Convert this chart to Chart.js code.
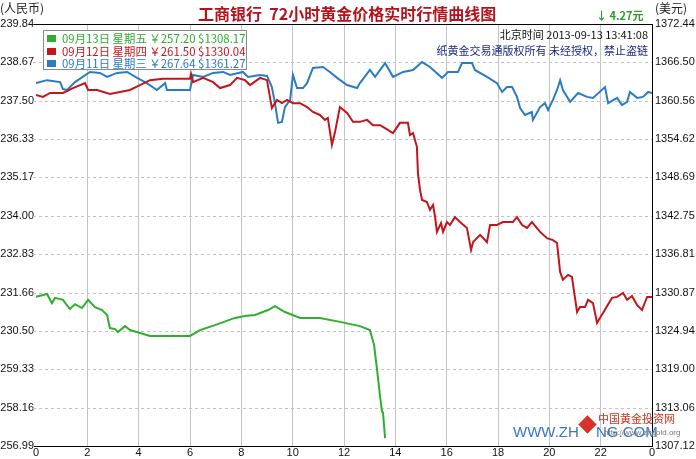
<!DOCTYPE html>
<html>
<head>
<meta charset="utf-8">
<script src="https://cdn.jsdelivr.net/npm/chart.js@4.4.1/dist/chart.umd.min.js"></script>
<style>
  body { margin: 0; background: #fff; }
  #wrap { position: relative; width: 696px; height: 459px; overflow: hidden; background: #fff; }
  #wrap canvas { position: absolute; left: 0; top: 0; }
  .txt { position: absolute; white-space: nowrap; font-family: "Noto Sans CJK SC", sans-serif; line-height: 1; }
  .title { left: 198px; top: 5px; font-size: 16px; font-weight: 700; color: #b5121b; }
  .unit { top: 2px; font-size: 12px; color: #222; }
  .change { left: 596px; top: 10px; font-size: 11px; font-weight: 700; color: #2f9a2f; }
  .stamp { right: 48px; font-size: 11px; }
  .legend { position: absolute; left: 43px; top: 30px; width: 204px; height: 40px; border: 1px solid #8a8a8a; background: #fff; box-sizing: border-box; }
  .legend .row { position: absolute; left: 3px; height: 12px; font-family: "Noto Sans CJK SC", sans-serif; font-size: 11.4px; line-height: 12px; white-space: nowrap; }
  .legend .sw { display: inline-block; width: 9px; height: 7px; margin-right: 6px; vertical-align: 1px; }
  .mark { font-family: "Liberation Sans", Arial, sans-serif; font-size: 15px; color: #3a78c0; }
</style>
</head>
<body>
<div id="wrap">
  <canvas id="gold" width="696" height="459"></canvas>
  <div class="txt unit" style="left:0px;">(人民币)</div>
  <div class="txt unit" style="left:655px;">(美元)</div>
  <div class="txt title">工商银行&nbsp; 72小时黄金价格实时行情曲线图</div>
  <div class="txt change">↓ 4.27元</div>
  <div class="txt stamp" style="top:29px; color:#111;">北京时间 2013-09-13 13:41:08</div>
  <div class="txt stamp" style="top:45px; color:#1c2a86;">纸黄金交易通版权所有 未经授权，禁止盗链</div>
  <div class="legend" id="legend"></div>
  <div class="txt mark" style="left:513px; top:424px;">WWW.ZH</div>
  <div class="txt" style="left:581px; top:418px; width:13px; height:13px; background:#d8332a; transform:rotate(45deg);"></div>
  <div class="txt mark" style="left:596px; top:424px;">NG.COM</div>
  <div class="txt" style="left:598px; top:413px; font-size:11px; color:#d0321e;">中国黄金投资网</div>
  <div class="txt" style="left:604px; top:429px; font-size:8px; color:#777; font-family:'Liberation Sans',sans-serif;">http://www.zhgold.org</div>
</div>
<script>
// hours of the day (x) and price in yuan/gram (left axis)
const greenHours = [0, 0.43, 0.62, 0.74, 1.05, 1.32, 1.52, 1.79, 2.03, 2.30, 2.57, 2.77, 2.88, 3.08, 3.19, 3.47, 3.66, 4.05, 4.44, 6.00, 6.39, 6.97, 7.75, 8.14, 8.53, 9.04, 9.31, 9.70, 10.29, 11.06, 11.84, 12.62, 13.01, 13.17, 13.29, 13.40, 13.48, 13.52, 13.60];
const greenPrices = [261.53, 261.62, 261.34, 261.50, 261.44, 261.16, 261.31, 261.19, 261.44, 261.22, 261.13, 260.98, 260.58, 260.55, 260.46, 260.64, 260.52, 260.43, 260.34, 260.34, 260.52, 260.67, 260.89, 260.95, 260.98, 261.13, 261.25, 261.07, 260.89, 260.89, 260.77, 260.64, 260.52, 260.07, 259.30, 258.54, 258.03, 258.00, 257.23];

const redHours = [0, 0.27, 0.55, 1.05, 1.44, 1.91, 2.03, 2.38, 2.88, 3.27, 3.66, 4.05, 4.44, 4.95, 6.00, 6.04, 6.12, 6.51, 6.90, 7.17, 7.56, 7.83, 8.14, 8.34, 8.73, 9.00, 9.19, 9.39, 9.58, 9.78, 10.01, 10.29, 10.56, 10.79, 11.06, 11.26, 11.37, 11.53, 11.65, 11.84, 12.12, 12.35, 12.62, 12.90, 13.13, 13.40, 13.60, 13.91, 14.18, 14.49, 14.57, 14.69, 14.84, 14.88, 14.96, 15.04, 15.23, 15.35, 15.47, 15.55, 15.62, 15.78, 15.86, 16.01, 16.13, 16.32, 16.52, 16.79, 16.95, 17.03, 17.30, 17.57, 17.69, 17.96, 18.19, 18.58, 18.74, 18.94, 19.13, 19.32, 19.64, 19.91, 20.14, 20.30, 20.42, 20.53, 20.73, 20.88, 21.08, 21.19, 21.39, 21.51, 21.70, 21.86, 21.97, 22.09, 22.44, 22.64, 22.87, 23.03, 23.22, 23.42, 23.61, 23.81, 24.00];
const redPrices = [267.68, 267.62, 267.74, 267.74, 267.89, 268.04, 267.83, 267.83, 267.71, 267.77, 267.83, 267.98, 268.13, 268.17, 268.17, 268.32, 268.07, 268.20, 268.07, 267.89, 267.98, 268.20, 268.13, 267.98, 268.20, 268.13, 267.28, 267.53, 267.43, 267.53, 267.43, 267.43, 267.31, 267.16, 267.07, 266.92, 266.98, 266.16, 266.55, 267.31, 267.13, 266.86, 266.86, 266.92, 266.76, 266.76, 266.67, 266.52, 266.83, 266.83, 266.46, 266.52, 266.10, 265.30, 264.79, 264.48, 264.42, 264.18, 264.33, 263.96, 263.51, 263.78, 263.51, 263.81, 263.72, 263.96, 263.81, 263.63, 262.96, 263.20, 263.42, 263.20, 263.72, 263.72, 263.81, 263.81, 263.96, 263.72, 263.63, 263.81, 263.51, 263.32, 263.26, 263.17, 262.29, 262.05, 262.20, 262.14, 261.07, 261.22, 261.22, 261.44, 261.34, 260.74, 260.89, 261.04, 261.50, 261.53, 261.65, 261.44, 261.56, 261.28, 261.13, 261.53, 261.53];

const blueHours = [0, 0.43, 0.94, 1.05, 1.21, 1.52, 2.10, 2.49, 2.77, 3.16, 3.55, 3.94, 4.32, 4.71, 5.03, 5.10, 6.00, 6.12, 6.51, 6.90, 7.29, 7.56, 8.06, 8.26, 8.73, 9.00, 9.19, 9.31, 9.43, 9.58, 9.70, 9.90, 10.01, 10.17, 10.40, 10.56, 10.79, 11.18, 11.45, 11.73, 12.12, 12.51, 12.62, 13.01, 13.21, 13.60, 13.91, 14.30, 14.69, 15.04, 15.35, 15.82, 16.05, 16.44, 16.60, 16.99, 17.10, 17.57, 17.96, 18.16, 18.35, 18.55, 18.74, 18.86, 19.05, 19.32, 19.36, 19.64, 19.83, 19.95, 20.14, 20.30, 20.42, 20.53, 20.81, 21.12, 21.47, 21.70, 22.17, 22.29, 22.64, 22.83, 23.03, 23.14, 23.42, 23.65, 23.85, 24.00];
const bluePrices = [268.04, 268.13, 268.07, 267.86, 267.83, 268.07, 268.38, 268.35, 268.23, 268.35, 268.38, 268.20, 268.04, 267.83, 268.04, 267.83, 267.83, 268.29, 268.23, 268.35, 268.38, 268.29, 268.38, 268.23, 268.29, 268.26, 267.92, 267.43, 266.83, 266.86, 267.31, 267.53, 268.29, 267.89, 267.89, 268.04, 268.50, 268.53, 268.38, 268.20, 267.98, 267.89, 268.04, 268.44, 268.23, 268.65, 268.23, 268.38, 268.44, 268.68, 268.53, 268.20, 268.38, 268.38, 268.65, 268.65, 268.44, 268.23, 268.04, 267.77, 267.92, 267.92, 267.62, 267.28, 267.07, 267.16, 266.92, 267.31, 267.43, 267.22, 267.53, 267.83, 268.13, 267.83, 267.47, 267.74, 267.62, 267.59, 267.92, 267.43, 267.59, 267.37, 267.47, 267.77, 267.59, 267.62, 267.77, 267.74];

const legendLabels = ['09月13日 星期五 ￥257.20 $1308.17', '09月12日 星期四 ￥261.50 $1330.04', '09月11日 星期三 ￥267.64 $1361.27'];
const seriesColors = ['#2fae2f', '#c3161c', '#2a7cc4'];

const xTicks = [0, 2, 4, 6, 8, 10, 12, 14, 16, 18, 20, 22, 24];
const xTickLabels = ['0', '2', '4', '6', '8', '10', '12', '14', '16', '18', '20', '22', '0'];
const leftTicks = [256.99, 258.16, 259.33, 260.50, 261.66, 262.83, 264.00, 265.17, 266.33, 267.50, 268.67, 269.84];
const leftTickLabels = ['256.99', '258.16', '259.33', '230.50', '231.66', '232.83', '234.00', '235.17', '236.33', '237.50', '238.67', '239.84'];
const rightTicks = [1307.12, 1313.06, 1319.00, 1324.94, 1330.87, 1336.81, 1342.75, 1348.69, 1354.62, 1360.56, 1366.50, 1372.44];

const toPoints = (hours, prices) => hours.map((h, i) => ({ x: h, y: prices[i] }));

const series = [toPoints(greenHours, greenPrices), toPoints(redHours, redPrices), toPoints(blueHours, bluePrices)];

const legendEl = document.getElementById('legend');
legendLabels.forEach((label, i) => {
  legendEl.insertAdjacentHTML('beforeend',
    `<div class="row" style="top:${1 + i * 12.5}px; color:${seriesColors[i]};"><span class="sw" style="background:${seriesColors[i]}"></span>${label}</div>`);
});

const tickFont = { family: '"Liberation Sans", Arial, sans-serif', size: 11 };

// dashed horizontal guides, top border
const frame = {
  id: 'frame',
  beforeDatasetsDraw(chart) {
    const { ctx, chartArea, scales } = chart;
    ctx.save();
    ctx.strokeStyle = '#c4c4c4';
    ctx.lineWidth = 1;
    ctx.setLineDash([3, 3]);
    leftTicks.forEach((v, i) => {
      if (i === 0 || i === leftTicks.length - 1) return;
      const y = Math.round(scales.y.getPixelForValue(v)) + 0.5;
      ctx.beginPath();
      ctx.moveTo(chartArea.left - 3, y);
      ctx.lineTo(chartArea.right, y);
      ctx.stroke();
    });
    ctx.restore();
  },
  afterDraw(chart) {
    const { ctx, chartArea } = chart;
    ctx.save();
    ctx.strokeStyle = '#000';
    ctx.lineWidth = 1;
    ctx.beginPath();
    ctx.moveTo(chartArea.left - 2, Math.round(chartArea.top) + 0.5);
    ctx.lineTo(chartArea.right, Math.round(chartArea.top) + 0.5);
    ctx.moveTo(chartArea.left - 2, Math.round(chartArea.bottom) + 0.5);
    ctx.lineTo(chartArea.left, Math.round(chartArea.bottom) + 0.5);
    ctx.stroke();
    ctx.restore();
  }
};

new Chart(document.getElementById('gold'), {
  type: 'line',
  data: {
    datasets: series.map((pts, i) => ({
      label: legendLabels[i],
      data: pts,
      borderColor: seriesColors[i],
      borderWidth: 2,
      pointRadius: 0,
      tension: 0,
      yAxisID: 'y'
    }))
  },
  options: {
    responsive: false,
    animation: false,
    layout: { padding: { top: 24 } },
    plugins: { legend: { display: false }, tooltip: { enabled: false } },
    scales: {
      x: {
        type: 'linear',
        min: 0,
        max: 24,
        afterBuildTicks: (scale) => { scale.ticks = xTicks.map(v => ({ value: v })); },
        afterFit: (scale) => { scale.height = 13; },
        ticks: {
          padding: 0,
          color: '#111',
          font: tickFont,
          maxRotation: 0,
          callback: (v, i) => xTickLabels[i]
        },
        grid: {
          drawTicks: false,
          color: (c) => (c.tick && (c.tick.value === 0 || c.tick.value === 24)) ? 'rgba(0,0,0,0)' : '#c4c4c4'
        },
        border: { display: true, color: '#000', width: 1 }
      },
      y: {
        position: 'left',
        min: 256.99,
        max: 269.84,
        afterBuildTicks: (scale) => { scale.ticks = leftTicks.map(v => ({ value: v })); },
        afterFit: (scale) => { scale.width = 36; },
        ticks: {
          padding: 2,
          color: '#111',
          font: tickFont,
          callback: (v, i) => leftTickLabels[i]
        },
        grid: { display: false, drawTicks: false, tickLength: 0 },
        border: { display: false }
      },
      y1: {
        position: 'right',
        min: 1307.12,
        max: 1372.44,
        afterBuildTicks: (scale) => { scale.ticks = rightTicks.map(v => ({ value: v })); },
        afterFit: (scale) => { scale.width = 44; },
        ticks: {
          padding: 3,
          color: '#111',
          font: tickFont,
          callback: (v) => v.toFixed(2)
        },
        grid: { display: false, drawTicks: false },
        border: { display: true, color: '#000', width: 1 }
      }
    }
  },
  plugins: [frame]
});
</script>
</body>
</html>
